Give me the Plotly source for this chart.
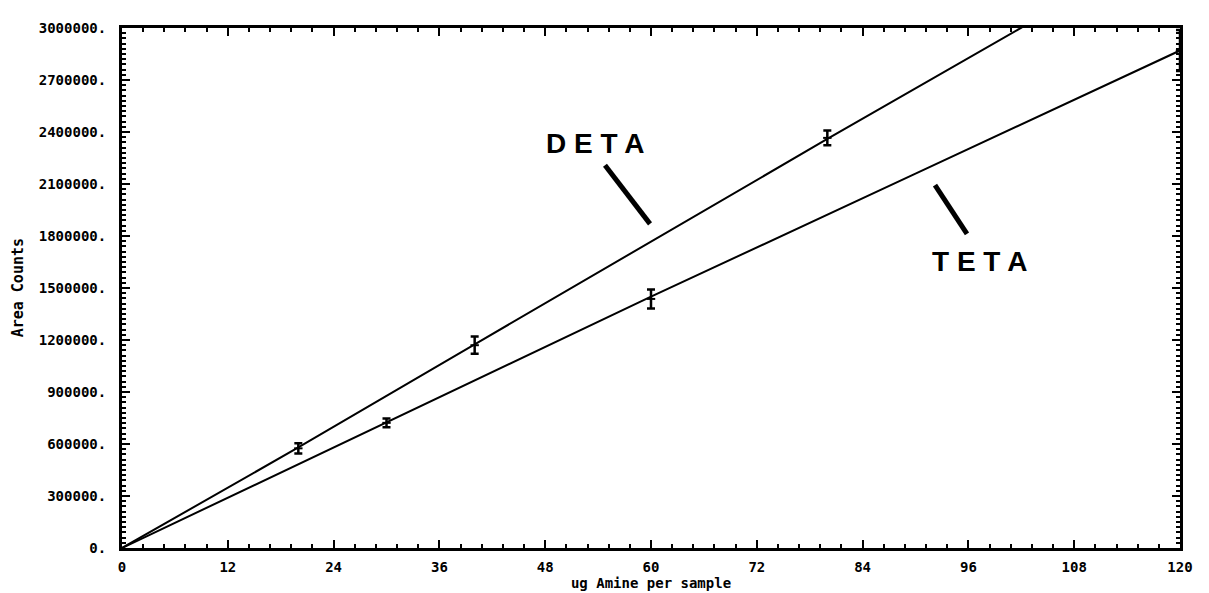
import plotly.graph_objects as go

# ---- data ----
deta_x = [20, 40, 80]
deta_y = [575000, 1170000, 2366000]
deta_err = [30000, 50000, 43000]

teta_x = [30, 60, 120]
teta_y = [722000, 1437000, 2870000]
teta_err = [25000, 55000, 118000]

deta_line_x = [0, 20, 40, 60, 80, 104]
deta_line_y = [0, 580000, 1175000, 1770000, 2360000, 3060000]

teta_line_x = [0, 30, 60, 90, 120]
teta_line_y = [0, 725000, 1450000, 2160000, 2870000]

x_ticks = [0, 12, 24, 36, 48, 60, 72, 84, 96, 108, 120]
x_ticklabels = ["0", "12", "24", "36", "48", "60", "72", "84", "96", "108", "120"]
y_ticks = [0, 300000, 600000, 900000, 1200000, 1500000, 1800000,
           2100000, 2400000, 2700000, 3000000]
y_ticklabels = ["0.", "300000.", "600000.", "900000.", "1200000.", "1500000.",
                "1800000.", "2100000.", "2400000.", "2700000.", "3000000."]

MONO = "DejaVu Sans Mono"
SANS = "Liberation Sans"

fig = go.Figure()

fig.add_trace(go.Scatter(x=deta_line_x, y=deta_line_y, mode="lines",
                         line=dict(color="black", width=2), showlegend=False,
                         hoverinfo="skip"))
fig.add_trace(go.Scatter(x=teta_line_x, y=teta_line_y, mode="lines",
                         line=dict(color="black", width=2), showlegend=False,
                         hoverinfo="skip"))

fig.add_trace(go.Scatter(x=deta_x, y=deta_y, mode="markers", name="DETA",
                         marker=dict(symbol="line-ew", size=6, color="black",
                                     line=dict(color="black", width=2)),
                         error_y=dict(type="data", array=deta_err, visible=True,
                                      color="black", thickness=2.5, width=4),
                         showlegend=False))
fig.add_trace(go.Scatter(x=teta_x, y=teta_y, mode="markers", name="TETA",
                         marker=dict(symbol="line-ew", size=6, color="black",
                                     line=dict(color="black", width=2)),
                         error_y=dict(type="data", array=teta_err, visible=True,
                                      color="black", thickness=2.5, width=4),
                         showlegend=False))

fig.update_xaxes(range=[0, 120], tickvals=x_ticks, ticktext=x_ticklabels,
                 showgrid=False, zeroline=False,
                 showline=True, linecolor="black", linewidth=3, mirror="allticks",
                 ticks="inside", ticklen=8, tickwidth=2, tickcolor="black",
                 minor=dict(ticks="inside", dtick=2.4, ticklen=4, tickwidth=2,
                            tickcolor="black", showgrid=False),
                 tickfont=dict(family=MONO, size=14, color="black", weight="bold"),
                 ticklabelstandoff=4,
                 title=dict(text="ug Amine per sample", standoff=4,
                            font=dict(family=MONO, size=14, color="black", weight="bold")))

fig.update_yaxes(range=[0, 3000000], tickvals=y_ticks, ticktext=y_ticklabels,
                 showgrid=False, zeroline=False,
                 showline=True, linecolor="black", linewidth=3, mirror="allticks",
                 ticks="inside", ticklen=8, tickwidth=2, tickcolor="black",
                 minor=dict(ticks="inside", dtick=30000, ticklen=4, tickwidth=2,
                            tickcolor="black", showgrid=False),
                 tickfont=dict(family=MONO, size=14, color="black", weight="bold"),
                 ticklabelstandoff=10)

annotations = [
    dict(text="Area Counts", xref="paper", yref="paper", x=-0.098, y=0.5,
         xanchor="center", yanchor="middle", textangle=-90, showarrow=False,
         font=dict(family=MONO, size=15, color="black", weight="bold")),
    dict(text="D E T A", xref="x", yref="y", x=53.76, y=2334600,
         xanchor="center", yanchor="middle", showarrow=False,
         font=dict(family=SANS, size=28, color="black", weight="bold")),
    dict(text="T E T A", xref="x", yref="y", x=97.31, y=1652000,
         xanchor="center", yanchor="middle", showarrow=False,
         font=dict(family=SANS, size=28, color="black", weight="bold")),
]

shapes = [
    dict(type="line", xref="x", yref="y", x0=54.78, y0=2208400, x1=59.89, y1=1870000,
         line=dict(color="black", width=5)),
    dict(type="line", xref="x", yref="y", x0=92.21, y0=2093600, x1=95.84, y1=1812600,
         line=dict(color="black", width=5)),
]

fig.update_layout(width=1209, height=593,
                  margin=dict(l=114, r=37, t=17, b=53),
                  paper_bgcolor="white", plot_bgcolor="white",
                  annotations=annotations, shapes=shapes, showlegend=False)

fig.write_html("out.html")
